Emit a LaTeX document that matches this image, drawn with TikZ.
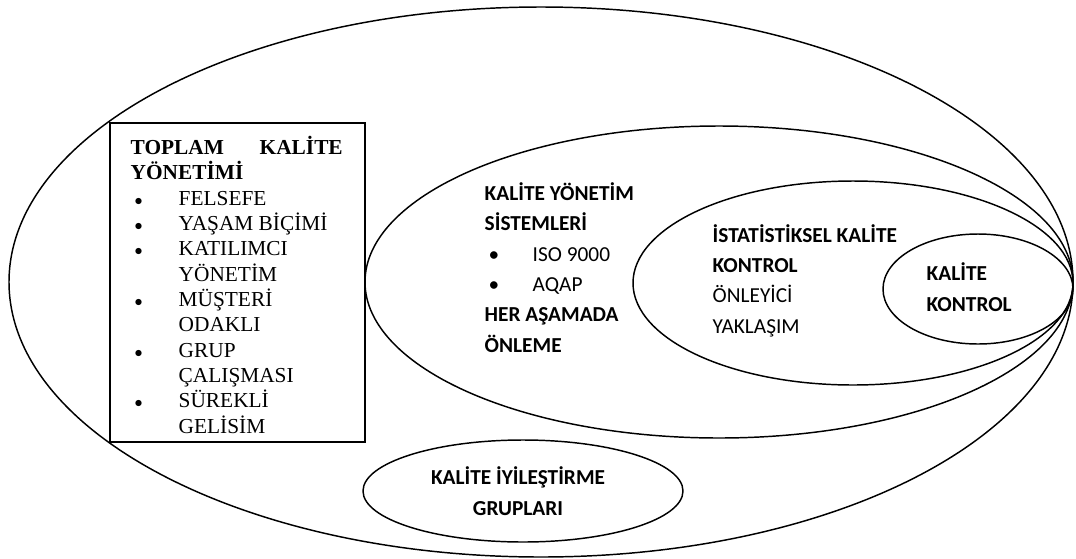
\documentclass[tikz,border=0pt]{standalone}
\usepackage{fontspec}
\setmainfont{Liberation Serif}
\newfontfamily\calibri{Carlito}
\usetikzlibrary{positioning}
\newcommand{\tbul}{\hspace*{3pt}\makebox[33pt][l]{\large$\bullet$}}
\newcommand{\tind}{\hspace*{36pt}}
\newcommand{\cbul}{\hspace*{3pt}\makebox[33pt][l]{\textbullet}}

\begin{document}
\begin{tikzpicture}[x=0.75pt,y=-0.75pt,line width=1.1pt,
    times/.style={font=\fontsize{16}{19}\selectfont, anchor=base west, align=left, inner sep=0pt},
    cal/.style={font=\calibri\fontsize{16}{22.7}\selectfont, anchor=base west, align=left, inner sep=0pt}]
        \useasboundingbox (0,0) rectangle (1076,558);

        %ellissi
        \draw (541,282) ellipse [x radius=532, y radius=275];
        \draw (719,282) ellipse [x radius=354, y radius=156];
        \draw (853,283) ellipse [x radius=220, y radius=102];
        \draw (978,289) ellipse [x radius=95, y radius=55];
        \draw (523,491) ellipse [x radius=160, y radius=51];

        %riquadro toplam kalite (ancora sulla riga finale)
        \draw (110,123) rectangle (365,442);
        \node[times] (tky) at (130,433) {\makebox[159pt][s]{\bfseries TOPLAM KALİTE}\\
            \bfseries YÖNETİMİ\\
            \tbul FELSEFE\\
            \tbul YAŞAM BİÇİMİ\\
            \tbul KATILIMCI\\
            \tind YÖNETİM\\
            \tbul MÜŞTERİ\\
            \tind ODAKLI\\
            \tbul GRUP\\
            \tind ÇALIŞMASI\\
            \tbul SÜREKLİ\\
            \tind GELİSİM};

        %testi nelle ellissi
        \node[cal] (kys) at (484,352) {\textbf{KALİTE YÖNETİM}\\
            \textbf{SİSTEMLERİ}\\
            \cbul ISO 9000\\
            \cbul AQAP\\
            \textbf{HER AŞAMADA}\\
            \textbf{ÖNLEME}};
        \node[cal] (skk) at (712,333) {\textbf{İSTATİSTİKSEL KALİTE}\\
            \textbf{KONTROL}\\
            ÖNLEYİCİ\\
            YAKLAŞIM};
        \node[cal] (kk) at (926,311) {\textbf{KALİTE}\\
            \textbf{KONTROL}};
        \node[cal, anchor=base, align=center] (kig) at (518,515) {\textbf{KALİTE İYİLEŞTİRME}\\
            \textbf{GRUPLARI}};
    \end{tikzpicture}
\end{document}
